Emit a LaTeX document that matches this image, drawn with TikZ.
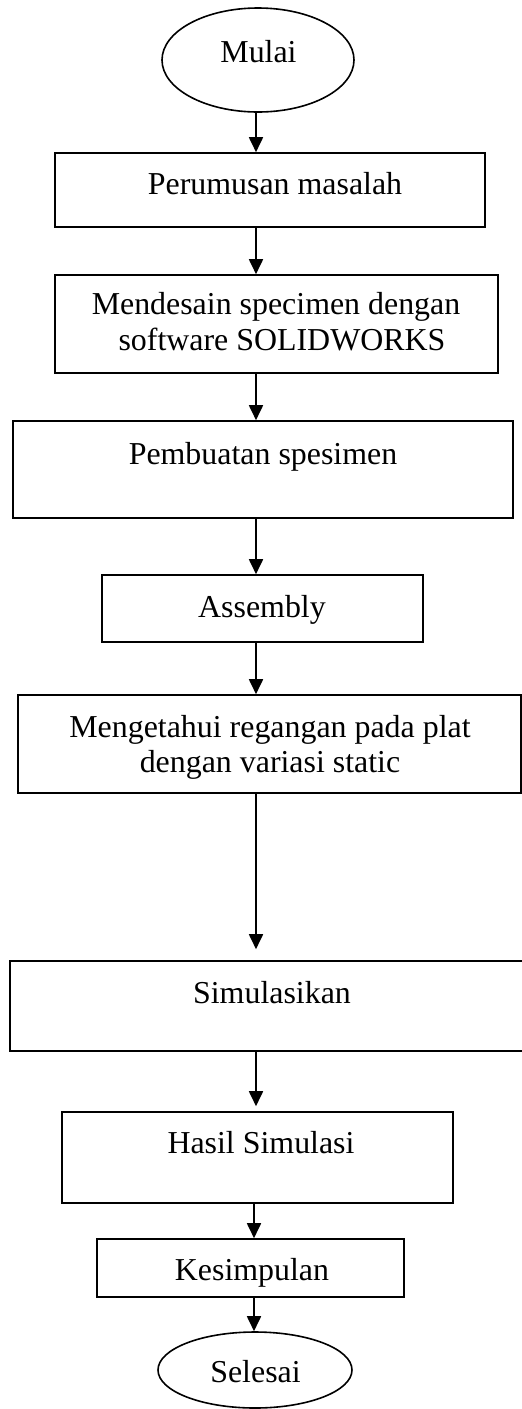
\documentclass[tikz,border=0pt]{standalone}
\usepackage{fontspec}
\setmainfont{Liberation Serif}
\usetikzlibrary{shapes.geometric,arrows.meta}
\begin{document}
\begin{tikzpicture}[x=1pt,y=-1pt,
  boxshape/.style={draw,rectangle,line width=1.6pt,inner sep=0pt},
  termshape/.style={draw,ellipse,line width=1.6pt,inner sep=0pt},
  lbl/.style={anchor=base,inner sep=0pt,font=\fontsize{31.9}{36}\selectfont},
  arr/.style={line width=1.8pt,-{Triangle[length=15pt,width=14pt]}}]
\useasboundingbox (0,0) rectangle (522,1409);
\clip (0,0) rectangle (522,1409);
\coordinate (ax) at (256,0);
\coordinate (bx) at (254,0);
% shapes
\node[termshape,minimum width=192pt,minimum height=104pt] (mulai) at (258,60) {};
\node[boxshape,minimum width=430pt,minimum height=74pt] (b1) at (270,190) {};
\node[boxshape,minimum width=443pt,minimum height=98pt] (b2) at (276.5,324) {};
\node[boxshape,minimum width=500pt,minimum height=97pt] (b3) at (263,469.5) {};
\node[boxshape,minimum width=321pt,minimum height=67pt] (b4) at (262.5,608.5) {};
\node[boxshape,minimum width=503pt,minimum height=98pt] (b5) at (269.5,744) {};
\node[boxshape,minimum width=524pt,minimum height=90pt] (b6) at (272,1006) {};
\node[boxshape,minimum width=391pt,minimum height=91pt] (b7) at (257.5,1157.5) {};
\node[boxshape,minimum width=307pt,minimum height=58pt] (b8) at (250.5,1268) {};
\node[termshape,minimum width=194pt,minimum height=76pt] (selesai) at (255,1370) {};
% texts
\node[lbl] (t0) at (258.5,62) {Mulai};
\node[lbl] (t1) at (275,194) {Perumusan masalah};
\node[lbl] (t2a) at (276,314) {Mendesain specimen dengan};
\node[lbl] (t2b) at (282,350) {software SOLIDWORKS};
\node[lbl] (t3) at (263,464) {Pembuatan spesimen};
\node[lbl] (t4) at (262,617) {Assembly};
\node[lbl] (t5a) at (270,737) {Mengetahui regangan pada plat};
\node[lbl] (t5b) at (270,772) {dengan variasi static};
\node[lbl] (t6) at (272,1003) {Simulasikan};
\node[lbl] (t7) at (261,1153) {Hasil Simulasi};
\node[lbl] (t8) at (252,1280) {Kesimpulan};
\node[lbl] (t9) at (255.5,1382) {Selesai};
% connectors
\draw[arr] (mulai.south -| ax) -- (b1.north -| ax);
\draw[arr] (b1.south -| ax) -- (b2.north -| ax);
\draw[arr] (b2.south -| ax) -- (b3.north -| ax);
\draw[arr] (b3.south -| ax) -- (b4.north -| ax);
\draw[arr] (b4.south -| ax) -- (b5.north -| ax);
\draw[arr,shorten >=11pt] (b5.south -| ax) -- (b6.north -| ax);
\draw[arr,shorten >=5pt] (b6.south -| ax) -- (b7.north -| ax);
\draw[arr] (b7.south -| bx) -- (b8.north -| bx);
\draw[arr] (b8.south -| bx) -- (selesai.north -| bx);
\end{tikzpicture}
\end{document}
